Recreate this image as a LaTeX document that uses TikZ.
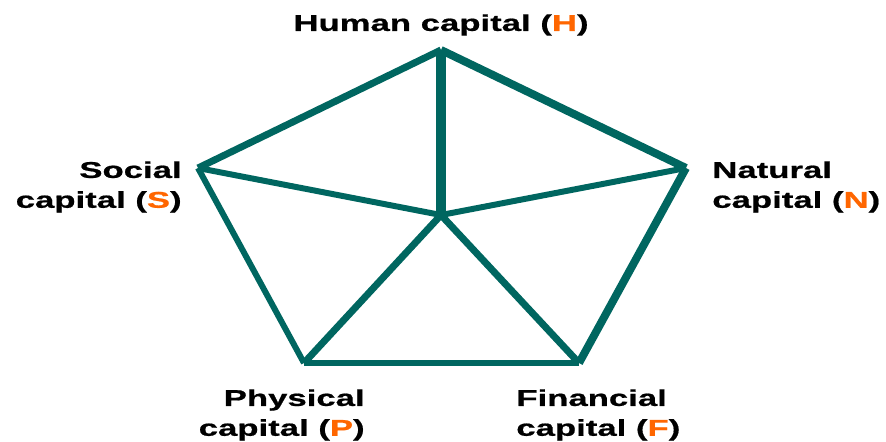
\documentclass[tikz,border=0pt]{standalone}
\usepackage{fontspec}
\setmainfont{Liberation Sans}
\newfontfamily\capfont[FakeStretch=1.52, FakeBold=0.8]{Liberation Sans}
\usepackage{xcolor}
\definecolor{pentateal}{RGB}{0, 102, 96}
\definecolor{caporange}{RGB}{255, 102, 0}
\usetikzlibrary{positioning, calc}

\newcommand{\capletter}[1]{(\textcolor{caporange}{#1})}

\begin{document}
\begin{tikzpicture}[
    x=0.02cm, y=-0.02cm,
    rim/.style={draw=pentateal, line width=#1*0.567pt},
    caplabel/.style={inner sep=0pt, font=\capfont\bfseries\fontsize{13}{17}\selectfont}
]
    \useasboundingbox (0,0) rectangle (886,441);

    % corners of the pentagon
    \coordinate (H) at (441,50);
    \coordinate (N) at (686,168);
    \coordinate (F) at (579,363);
    \coordinate (P) at (304,363);
    \coordinate (S) at (198,168);
    \coordinate (mid) at (441,215);

    % outer rim
    \draw[rim=7] (S) -- (H);
    \draw[rim=8] (H) -- (N);
    \draw[rim=8] (N) -- (F);
    \draw[rim=6] (F) -- (P);
    \draw[rim=6] (P) -- (S);

    % spokes
    \draw[rim=10] (mid) -- (H);
    \draw[rim=6] (mid) -- (S);
    \draw[rim=6] (mid) -- (N);
    \draw[rim=7] (mid) -- (P);
    \draw[rim=7] (mid) -- (F);

    % labels
    \node[caplabel, anchor=north] (human) at (441,14) {Human capital \capletter{H}};
    \node[caplabel, anchor=north east, align=right] (social) at (182,161) {Social\\capital \capletter{S}};
    \node[caplabel, anchor=north west, align=left] (natural) at (712,161) {Natural\\capital \capletter{N}};
    \node[caplabel, anchor=north east, align=right] (physical) at (365,389) {Physical\\capital \capletter{P}};
    \node[caplabel, anchor=north west, align=left] (financial) at (516,389) {Financial\\capital \capletter{F}};
\end{tikzpicture}
\end{document}
